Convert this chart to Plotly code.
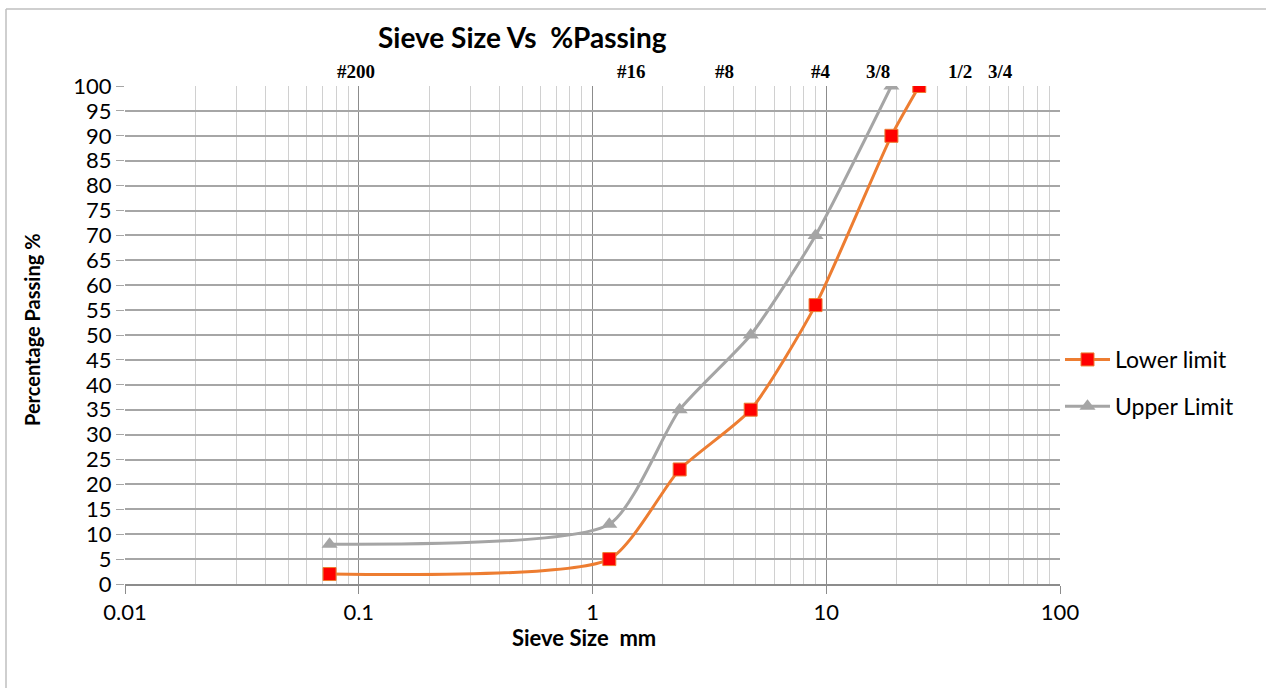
import plotly.graph_objects as go

# ---- data ----
sieve_mm = [0.075, 1.18, 2.36, 4.75, 9.0, 19.0, 25.0]
lower_limit = [2, 5, 23, 35, 56, 90, 100]
upper_sieve_mm = [0.075, 1.18, 2.36, 4.75, 9.0, 19.0]
upper_limit = [8, 12, 35, 50, 70, 100]
x_tick_vals = [0.01, 0.1, 1, 10, 100]
x_tick_text = ["0.01", "0.1", "1", "10", "100"]
sieve_labels = ["#200", "#16", "#8", "#4", "3/8", "1/2", "3/4"]

# ---- layout geometry (pixels) ----
W, H = 1266, 688
L, R, T, B = 125, 1060, 86, 584


def px(xp):
    return (xp - L) / (R - L)


def py(yp):
    return (B - yp) / (B - T)


label_px = [356, 631, 724, 821, 878, 960, 1000]

fig = go.Figure()
fig.add_trace(go.Scatter(
    x=sieve_mm, y=lower_limit, name="Lower limit", mode="lines+markers",
    line=dict(color="#ED7D31", width=3, shape="spline", smoothing=0.6),
    marker=dict(symbol="square", size=13, color="#FF0000",
                line=dict(color="#ED7D31", width=1)),
    legendgroup="a"))
fig.add_trace(go.Scatter(
    x=upper_sieve_mm, y=upper_limit, name="Upper Limit", mode="lines+markers",
    line=dict(color="#A5A5A5", width=3, shape="spline", smoothing=0.6),
    marker=dict(symbol="triangle-up", size=14, color="#A5A5A5"),
    legendgroup="b"))

font_main = "Lato, Carlito, Calibri, sans-serif"

annotations = []
for lab, xp in zip(sieve_labels, label_px):
    annotations.append(dict(
        text=f"<b>{lab}</b>", x=px(xp), y=py(71), xref="paper", yref="paper",
        showarrow=False, xanchor="center", yanchor="middle",
        font=dict(family="Liberation Serif, Times New Roman, serif", size=19, color="#000")))
annotations.append(dict(
    text="<b>Sieve Size Vs  %Passing</b>", x=px(522), y=py(37), xref="paper", yref="paper",
    showarrow=False, xanchor="center", yanchor="middle",
    font=dict(family=font_main, size=28, color="#000")))
annotations.append(dict(
    text="<b>Sieve Size  mm</b>", x=px(584), y=py(637), xref="paper", yref="paper",
    showarrow=False, xanchor="center", yanchor="middle",
    font=dict(family=font_main, size=22, color="#000")))
annotations.append(dict(
    text="<b>Percentage Passing %</b>", x=px(32), y=py(330), xref="paper", yref="paper",
    showarrow=False, xanchor="center", yanchor="middle", textangle=-90,
    font=dict(family=font_main, size=20, color="#000")))

shapes = [
    dict(type="line", xref="paper", yref="paper", x0=px(6), x1=px(1266), y0=py(9), y1=py(9),
         line=dict(color="#BFBFBF", width=1.5)),
    dict(type="line", xref="paper", yref="paper", x0=px(6), x1=px(6), y0=py(9), y1=py(688),
         line=dict(color="#BFBFBF", width=1.5)),
]

fig.update_layout(
    width=W, height=H, autosize=False,
    margin=dict(l=L, r=W - R, t=T, b=H - B, pad=0),
    paper_bgcolor="white", plot_bgcolor="white",
    font=dict(family=font_main, size=22, color="#000"),
    showlegend=True,
    legend=dict(x=1.0, y=py(383), xanchor="left", yanchor="middle",
                font=dict(family=font_main, size=23, color="#000"),
                bgcolor="rgba(0,0,0,0)", tracegroupgap=14, traceorder="grouped",
                itemwidth=45),
    annotations=annotations, shapes=shapes,
)
fig.update_xaxes(
    type="log", range=[-2, 2], tickvals=x_tick_vals, ticktext=x_tick_text,
    showgrid=True, gridcolor="#8C8C8C", gridwidth=1,
    ticks="outside", ticklen=8, tickcolor="#8C8C8C",
    showline=True, linecolor="#8C8C8C", linewidth=2, mirror=False,
    tickfont=dict(size=22), zeroline=False,
    minor=dict(dtick="D1", showgrid=True, gridcolor="#D0D0D0", gridwidth=1, ticks=""),
)
fig.update_yaxes(
    range=[0, 100], dtick=5, tick0=0,
    showgrid=True, gridcolor="#A6A6A6", gridwidth=1.5,
    ticks="outside", ticklen=8, tickcolor="#A6A6A6",
    showline=False, zeroline=False, tickfont=dict(size=22),
)

fig.write_html("out.html", config={"displayModeBar": False},
               post_script="document.body.style.margin='0';document.body.style.overflow='hidden';")
